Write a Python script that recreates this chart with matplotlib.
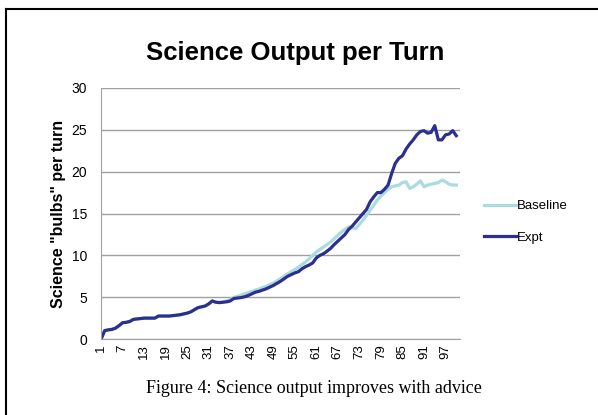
import matplotlib.pyplot as plt
from matplotlib.lines import Line2D

turns = list(range(1, 101))
expt = [0.0, 1.0, 1.1, 1.15, 1.3, 1.6, 1.95, 2.0, 2.1, 2.35,
        2.4, 2.45, 2.5, 2.5, 2.5, 2.5, 2.75, 2.75, 2.75, 2.75,
        2.8, 2.85, 2.9, 3.0, 3.1, 3.25, 3.5, 3.75, 3.85, 3.95,
        4.2, 4.55, 4.4, 4.35, 4.4, 4.45, 4.55, 4.85, 4.9, 4.95,
        5.05, 5.2, 5.4, 5.6, 5.7, 5.85, 6.0, 6.2, 6.4, 6.65,
        6.9, 7.2, 7.5, 7.7, 7.9, 8.05, 8.4, 8.65, 8.85, 9.1,
        9.7, 10.0, 10.2, 10.5, 10.85, 11.3, 11.7, 12.1, 12.5, 13.1,
        13.5, 14.0, 14.5, 15.0, 15.5, 16.4, 17.0, 17.5, 17.5, 17.9,
        18.4, 19.8, 21.0, 21.6, 21.9, 22.7, 23.3, 23.8, 24.4, 24.8,
        24.9, 24.6, 24.7, 25.5, 23.8, 23.8, 24.4, 24.5, 24.9, 24.3]
baseline = [0.0, 1.0, 1.1, 1.15, 1.3, 1.6, 1.95, 2.0, 2.1, 2.35,
            2.4, 2.45, 2.5, 2.5, 2.5, 2.5, 2.75, 2.75, 2.75, 2.75,
            2.8, 2.85, 2.9, 3.0, 3.1, 3.25, 3.5, 3.75, 3.85, 3.95,
            4.2, 4.55, 4.4, 4.4, 4.45, 4.55, 4.7, 4.95, 5.1, 5.25,
            5.4, 5.55, 5.7, 5.85, 6.0, 6.15, 6.3, 6.5, 6.7, 6.95,
            7.2, 7.5, 7.8, 8.05, 8.3, 8.6, 8.9, 9.2, 9.6, 10.0,
            10.4, 10.7, 11.0, 11.3, 11.6, 12.0, 12.4, 12.8, 13.1, 13.4,
            13.3, 13.2, 13.7, 14.2, 14.8, 15.4, 16.0, 16.6, 17.1, 17.5,
            17.9, 18.2, 18.3, 18.4, 18.7, 18.8, 18.0, 18.2, 18.5, 18.9,
            18.2, 18.4, 18.5, 18.6, 18.7, 19.0, 18.8, 18.5, 18.4, 18.4]
xticks = list(range(1, 101, 6))

fig = plt.figure(figsize=(5.98, 4.15), dpi=100)
ax = fig.add_axes([0.169, 0.183, 0.6, 0.605])

ax.plot(turns, baseline, color="#a9dbe0", lw=2.3, label="Baseline", solid_joinstyle="round")
ax.plot(turns, expt, color="#2b2f90", lw=2.3, label="Expt", solid_joinstyle="round")

ax.set_xlim(1, 101)
ax.set_ylim(0, 30)
ax.set_yticks(range(0, 31, 5))
ax.set_xticks(xticks)
ax.set_xticklabels([str(t) for t in xticks], rotation=90, family="Liberation Sans", fontsize=9.5)
for lbl in ax.get_yticklabels():
    lbl.set_family("Liberation Sans")
    lbl.set_fontsize(10)
ax.tick_params(axis="y", length=0, pad=10)
ax.tick_params(axis="x", length=0, pad=4)
ax.grid(axis="y", color="#a0a0a0", lw=1)
ax.set_axisbelow(True)
for s in ["top", "right"]:
    ax.spines[s].set_visible(False)
for s in ["left", "bottom"]:
    ax.spines[s].set_color("#a0a0a0")

ax.set_ylabel('Science "bulbs" per turn', family="Liberation Sans", fontweight="bold", fontsize=11.5, labelpad=4)

fig.text(0.494, 1 - 60 / 415, "Science Output per Turn", ha="center", va="baseline",
         family="Liberation Sans", fontweight="bold", fontsize=18.5)
fig.text(0.525, 0.065, "Figure 4: Science output improves with advice", ha="center", va="center",
         family="Liberation Serif", fontsize=13)

leg = ax.legend(loc="center left", bbox_to_anchor=(1.035, 0.466), frameon=False,
                handlelength=2.4, handletextpad=0.1, labelspacing=1.45,
                prop={"family": "Liberation Sans", "size": 9.5})

fig.add_artist(Line2D([0.01, 0.01], [0, 0.978], color="black", lw=1.5, transform=fig.transFigure))
fig.add_artist(Line2D([0.01, 1.0], [0.978, 0.978], color="black", lw=1.5, transform=fig.transFigure))

fig.savefig("out.png", dpi=100)
